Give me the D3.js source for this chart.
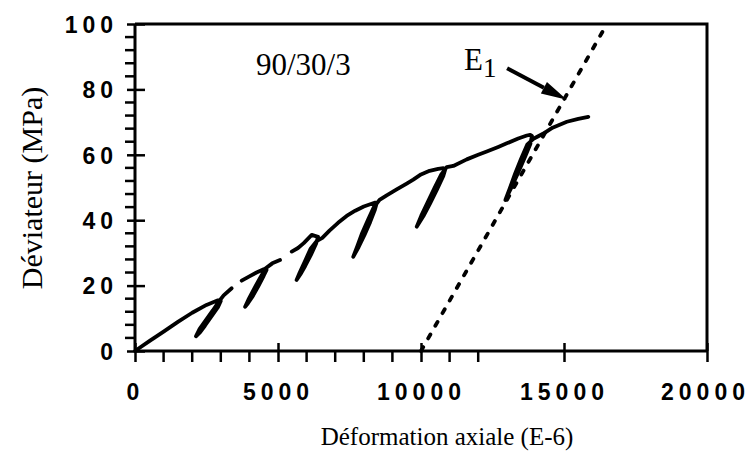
<!DOCTYPE html>
<html>
<head>
<meta charset="utf-8">
<script src="https://cdn.jsdelivr.net/npm/d3@7"></script>
<style>
  html, body { margin: 0; padding: 0; background: #fff; }
  svg { display: block; }
</style>
</head>
<body>
<svg id="chart" width="751" height="457"></svg>
<script>
// ---- data (strain in 1e-6, deviator stress in MPa) ----
const xTickValues = [0, 5000, 10000, 15000, 20000];
const xMinorTicks = [1000, 2000, 3000, 4000, 6000, 7000, 8000, 9000, 11000, 12000];
const yTickValues = [0, 20, 40, 60, 80, 100];
const yMinorTicks = [4, 8, 12, 16, 24, 28, 32, 36, 44, 48, 52, 56, 64, 68, 72, 76, 84, 88, 92, 96];

// continuous recorded pieces of the loading curve (with unload/reload loops)
const segmentA = [
  [0,0],[150,0.9],[500,3.0],[1000,5.9],[1500,8.9],[2000,11.7],[2500,14.1],[2900,15.5],
  [3000,15.3],[2900,13.4],[2660,10.4],[2450,7.8],[2280,5.8],[2130,4.5],
  [2260,6.8],[2490,9.6],[2720,12.4],[2920,15.0],[3100,17.0],[3380,19.2]
];
const segmentB = [
  [3730,21.5],[4000,22.8],[4250,24.0],[4500,25.0],
  [4600,24.8],[4500,23.0],[4300,19.6],[4100,16.5],[3950,14.6],[3850,13.5],
  [3960,15.6],[4150,18.8],[4350,22.0],[4560,25.2],[4800,26.8],[5070,27.8]
];
const segmentC = [
  [5480,30.4],[5700,31.5],[5900,33.0],[6180,35.5],
  [6400,34.9],[6330,32.8],[6150,29.4],[5950,26.0],[5780,23.4],[5650,21.7],
  [5760,24.0],[5950,27.6],[6135,31.2],[6350,33.6],[6550,34.6],
  [6800,36.8],[7100,39.2],[7400,41.3],[7700,42.9],[8000,44.2],[8400,45.4],
  [8450,45.2],[8380,43.0],[8220,39.4],[8020,35.4],[7820,31.8],[7630,28.8],
  [7770,32.0],[7940,36.0],[8140,40.0],[8340,43.8],[8550,46.2],
  [8800,47.6],[9150,49.4],[9500,51.2],[9730,52.4],[10000,54.0],[10300,55.1],[10600,55.7],[10780,55.9],
  [10850,55.6],[10780,53.5],[10560,49.4],[10310,45.0],[10080,41.2],[9850,38.0],
  [10010,41.4],[10240,45.6],[10470,49.8],[10710,54.0],[10900,56.2],
  [11130,56.6],[11600,58.6],[12000,60.0],[12300,61.0],[12700,62.4],[13000,63.5],[13400,65.0],[13700,65.9],[13820,66.1],
  [13880,65.8],[13820,63.2],[13620,59.0],[13400,54.6],[13170,50.2],[12950,46.2],
  [13100,49.6],[13290,54.2],[13500,58.8],[13720,63.2],[13950,65.0],[14280,66.5],[14600,68.3],[15100,70.1],[15500,71.0],[15850,71.6]
];
const curveSegments = [segmentA, segmentB, segmentC];

// modulus line E1
const e1Line = [[10000, 0], [16500, 100]];
const e1ArrowFrom = [13010, 86.5];
const e1ArrowTo = [15100, 76.8];

// texts
const xTitle = "Déformation axiale (E-6)";
const yTitle = "Déviateur (MPa)";
const sampleLabel = "90/30/3";

// ---- layout ----
const svg = d3.select("#chart");
const x = d3.scaleLinear().domain([0, 20000]).range([135, 707]);
const y = d3.scaleLinear().domain([0, 100]).range([351, 24]);

const tickFont = "'Liberation Sans', Arial, sans-serif";
const serifFont = "'Liberation Serif', 'Times New Roman', serif";
const LS = 5;
const TFS = 23;

// frame (top & right)
svg.append("path")
  .attr("d", `M${x(0)},${y(100)}H${x(20000)}V${y(0)}`)
  .attr("fill", "none").attr("stroke", "#000").attr("stroke-width", 3);

// x axis
const xAxis = svg.append("g").attr("transform", `translate(0,${y(0)})`)
  .call(d3.axisBottom(x).tickValues(xTickValues).tickSize(11).tickFormat(d3.format("d")));
xAxis.select(".domain").attr("stroke-width", 3).attr("d", `M${x(0)},0H${x(20000)}`);
xAxis.selectAll(".tick line").attr("stroke-width", 2.5).attr("y1", -8).attr("y2", 11);
xAxis.selectAll(".tick text")
  .attr("y", 0).attr("dy", 0).attr("transform", (d, i) => `translate(${i === xTickValues.length - 1 ? -2 : 0},49)`)
  .attr("font-family", tickFont).attr("font-weight", "bold").attr("font-size", TFS)
  .attr("letter-spacing", LS).attr("fill", "#000");
svg.append("g").selectAll("line").data(xMinorTicks).join("line")
  .attr("x1", d => x(d)).attr("x2", d => x(d))
  .attr("y1", y(0)).attr("y2", y(0) + 11)
  .attr("stroke", "#000").attr("stroke-width", 2.5);

// y axis
const yAxis = svg.append("g").attr("transform", `translate(${x(0)},0)`)
  .call(d3.axisLeft(y).tickValues(yTickValues).tickSize(8).tickFormat(d3.format("d")));
yAxis.select(".domain").attr("stroke-width", 3).attr("d", `M0,${y(0)}V${y(100)}`);
yAxis.selectAll(".tick line").attr("stroke-width", 2.5).attr("x1", 10).attr("x2", -8);
yAxis.selectAll(".tick text")
  .attr("x", -22 + LS).attr("dy", "0.36em")
  .attr("font-family", tickFont).attr("font-weight", "bold").attr("font-size", TFS)
  .attr("letter-spacing", LS).attr("fill", "#000");
svg.append("g").selectAll("line").data(yMinorTicks).join("line")
  .attr("x1", x(0) - 10).attr("x2", x(0))
  .attr("y1", d => y(d)).attr("y2", d => y(d))
  .attr("stroke", "#000").attr("stroke-width", 2.5);

// axis titles
svg.append("text").attr("x", 447).attr("y", 445)
  .attr("text-anchor", "middle").attr("font-family", serifFont).attr("font-size", 25)
  .attr("fill", "#000").text(xTitle);
svg.append("text").attr("transform", "translate(42,188) rotate(-90)")
  .attr("text-anchor", "middle").attr("font-family", serifFont).attr("font-size", 30)
  .attr("fill", "#000").text(yTitle);

// E1 dotted line
const line = d3.line().x(d => x(d[0])).y(d => y(d[1]));
svg.append("path").attr("d", line(e1Line))
  .attr("fill", "none").attr("stroke", "#000").attr("stroke-width", 3.8)
  .attr("stroke-dasharray", "4.5,10").attr("stroke-linecap", "round");

// curve
svg.append("g").selectAll("path").data(curveSegments).join("path")
  .attr("d", line)
  .attr("fill", "none").attr("stroke", "#000").attr("stroke-width", 3.8)
  .attr("stroke-linejoin", "round").attr("stroke-linecap", "round");

// sample label
svg.append("text").attr("x", 256).attr("y", 75)
  .attr("font-family", serifFont).attr("font-size", 31).attr("fill", "#000")
  .text(sampleLabel);

// E1 label + arrow
const e1Text = svg.append("text").attr("x", 464).attr("y", 70)
  .attr("font-family", serifFont).attr("font-size", 31).attr("fill", "#000");
e1Text.append("tspan").text("E");
e1Text.append("tspan").attr("dy", 7).attr("font-size", 27).text("1");

const ax0 = x(e1ArrowFrom[0]), ay0 = y(e1ArrowFrom[1]);
const ax1 = x(e1ArrowTo[0]), ay1 = y(e1ArrowTo[1]);
const ang = Math.atan2(ay1 - ay0, ax1 - ax0);
const headLen = 26, headHalf = 6.5;
const bx = ax1 - headLen * Math.cos(ang), by = ay1 - headLen * Math.sin(ang);
svg.append("line").attr("x1", ax0).attr("y1", ay0).attr("x2", bx).attr("y2", by)
  .attr("stroke", "#000").attr("stroke-width", 4);
svg.append("path")
  .attr("d", `M${ax1},${ay1}L${bx - headHalf * Math.sin(ang)},${by + headHalf * Math.cos(ang)}L${bx + headHalf * Math.sin(ang)},${by - headHalf * Math.cos(ang)}Z`)
  .attr("fill", "#000");
</script>
</body>
</html>
